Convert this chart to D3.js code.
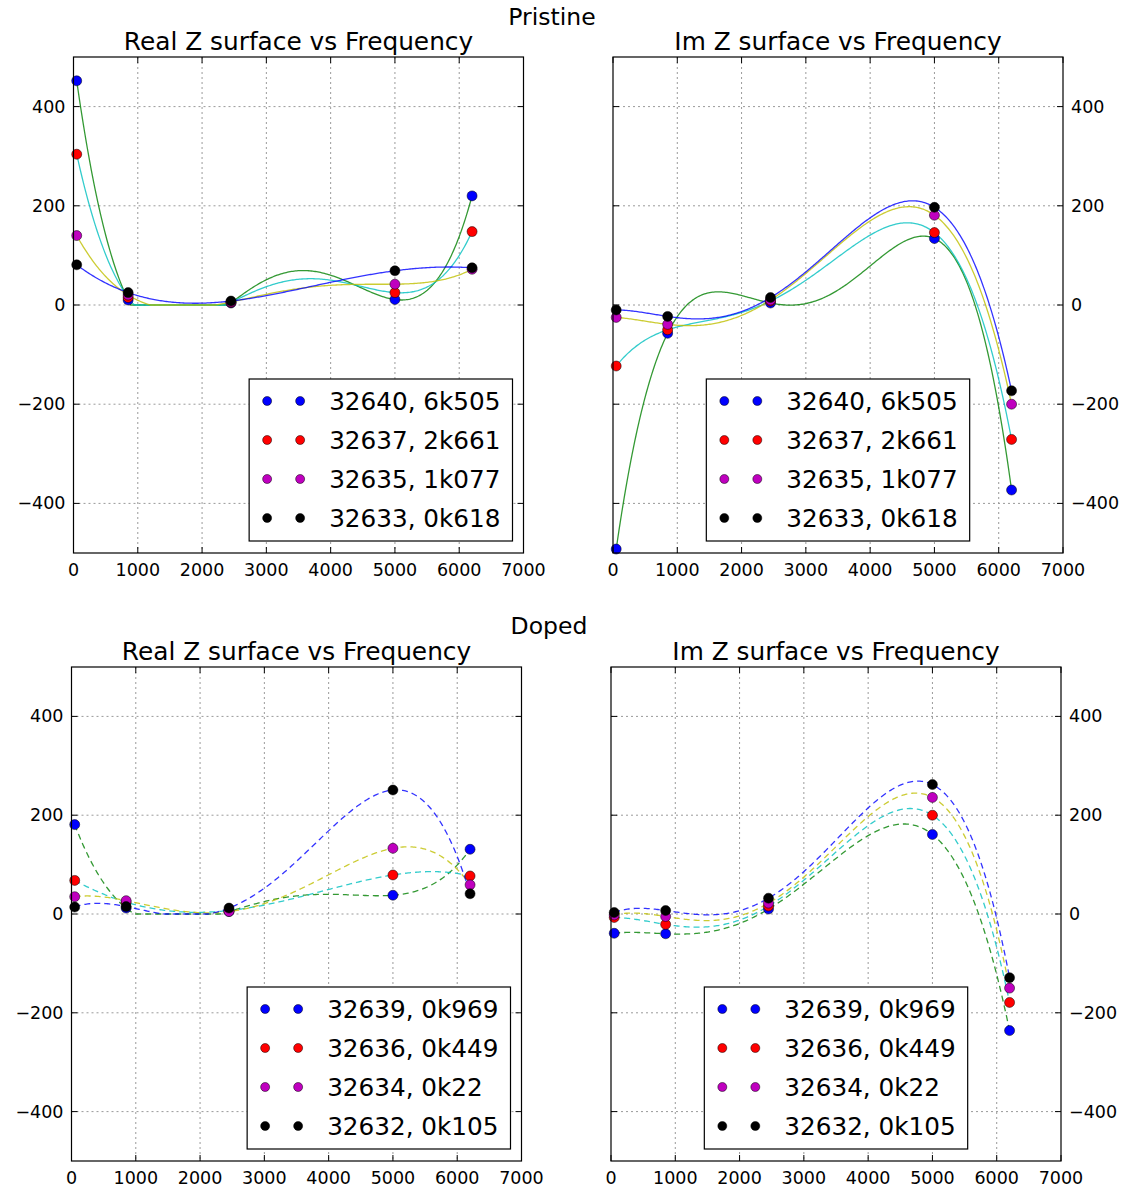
<!DOCTYPE html>
<html>
<head>
<meta charset="utf-8">
<script src="https://cdn.jsdelivr.net/npm/d3@7"></script>
<style>
  body { margin: 0; background: #fff; }
  svg text { font-family: "DejaVu Sans", sans-serif; fill: #000; }
</style>
</head>
<body>
<div id="chart"></div>
<script>
// frequencies of the measurements
const freq = [50, 850, 2450, 5000, 6200];

const pristineLabels = ['32640, 6k505', '32637, 2k661', '32635, 1k077', '32633, 0k618'];
const dopedLabels = ['32639, 0k969', '32636, 0k449', '32634, 0k22', '32632, 0k105'];

// one row per sample, one value per frequency
const pristineReal = [
  [452, 10, 4, 11, 220],
  [304, 15, 5, 25, 148],
  [140, 20, 6, 42, 72],
  [81, 25, 8, 69, 75]
];
const pristineIm = [
  [-492, -57, 4, 134, -373],
  [-123, -50, 8, 146, -271],
  [-25, -39, 10, 181, -200],
  [-10, -23, 15, 197, -173]
];
const dopedReal = [
  [181, 12, 5, 38, 131],
  [68, 24, 7, 79, 77],
  [35, 27, 5, 133, 59],
  [14, 15, 12, 251, 41]
];
const dopedIm = [
  [-39, -40, 10, 161, -236],
  [-7, -21, 16, 200, -179],
  [-2, -5, 22, 236, -150],
  [3, 7, 32, 262, -129]
];

const xTicks = [0, 1000, 2000, 3000, 4000, 5000, 6000, 7000];
const yTicks = [-400, -200, 0, 200, 400];

const dotColors = ['#0000ff', '#ff0000', '#bf00bf', '#000000'];
const curveColors = ['#008000', '#00bfbf', '#bfbf00', '#0000ff'];

// curve that passes one polynomial through all the points of a line,
// optionally held above a floor (real parts never go below zero)
function polyCurve(floorPx) {
  function PolyCurve(context) { this._context = context; }
  PolyCurve.prototype = {
    areaStart() {}, areaEnd() {},
    lineStart() { this._x = []; this._y = []; },
    point(x, y) { this._x.push(+x); this._y.push(+y); },
    lineEnd() {
      const xs = this._x, ys = this._y, n = xs.length;
      const f = t => {
        let s = 0;
        for (let i = 0; i < n; i++) {
          let l = 1;
          for (let j = 0; j < n; j++) if (j !== i) l *= (t - xs[j]) / (xs[i] - xs[j]);
          s += ys[i] * l;
        }
        return floorPx == null ? s : Math.min(s, floorPx);
      };
      const steps = 300;
      for (let k = 0; k <= steps; k++) {
        const t = xs[0] + (xs[n - 1] - xs[0]) * k / steps;
        if (k === 0) this._context.moveTo(t, f(t)); else this._context.lineTo(t, f(t));
      }
    }
  };
  return context => new PolyCurve(context);
}

const W = 1136, H = 1191;
const svg = d3.select('#chart').append('svg')
  .attr('width', W)
  .attr('height', H);

const fmt = d => (d < 0 ? '\u2212' + Math.abs(d) : String(d));
let clipId = 0;

function panel(opts) {
  const { left, top, width, height, title, data, labels, rightAxis, dashed, legendPos, nonNegative } = opts;
  const g = svg.append('g').attr('transform', 'translate(' + left + ',' + top + ')');

  const x = d3.scaleLinear().domain([0, 7000]).range([0, width]);
  const y = d3.scaleLinear().domain([-500, 500]).range([height, 0]);

  // grid
  g.append('g').selectAll('line')
    .data(xTicks.slice(1, -1))
    .enter().append('line')
    .attr('x1', d => x(d)).attr('x2', d => x(d))
    .attr('y1', 0).attr('y2', height)
    .attr('stroke', '#9a9a9a').attr('stroke-width', 1).attr('stroke-dasharray', '2,3');
  g.append('g').selectAll('line')
    .data(yTicks)
    .enter().append('line')
    .attr('x1', 0).attr('x2', width)
    .attr('y1', d => y(d)).attr('y2', d => y(d))
    .attr('stroke', '#9a9a9a').attr('stroke-width', 1).attr('stroke-dasharray', '2,3');

  // curves
  const id = 'clip' + (clipId++);
  g.append('clipPath').attr('id', id).append('rect')
    .attr('width', width).attr('height', height);

  const line = d3.line()
    .x((d, i) => x(freq[i]))
    .y(d => y(d))
    .curve(polyCurve(nonNegative ? y(0) : null));

  const curves = g.append('g').attr('clip-path', 'url(#' + id + ')');
  data.forEach((row, s) => {
    curves.append('path')
      .attr('d', line(row))
      .attr('fill', 'none')
      .attr('stroke', curveColors[s])
      .attr('stroke-opacity', 0.8)
      .attr('stroke-width', 1.3)
      .attr('stroke-dasharray', dashed ? '6,4' : null);
  });

  // points
  data.forEach((row, s) => {
    g.append('g').selectAll('circle')
      .data(row)
      .enter().append('circle')
      .attr('cx', (d, i) => x(freq[i]))
      .attr('cy', d => y(d))
      .attr('r', 5)
      .attr('fill', dotColors[s])
      .attr('stroke', '#000')
      .attr('stroke-width', 0.5);
  });

  // frame
  g.append('rect')
    .attr('width', width).attr('height', height)
    .attr('fill', 'none').attr('stroke', '#000').attr('stroke-width', 1.2);

  // inward ticks on all sides
  const tk = 6;
  xTicks.forEach(t => {
    g.append('line').attr('x1', x(t)).attr('x2', x(t)).attr('y1', height).attr('y2', height - tk).attr('stroke', '#000');
    g.append('line').attr('x1', x(t)).attr('x2', x(t)).attr('y1', 0).attr('y2', tk).attr('stroke', '#000');
  });
  yTicks.forEach(t => {
    g.append('line').attr('x1', 0).attr('x2', tk).attr('y1', y(t)).attr('y2', y(t)).attr('stroke', '#000');
    g.append('line').attr('x1', width).attr('x2', width - tk).attr('y1', y(t)).attr('y2', y(t)).attr('stroke', '#000');
  });

  g.append('g').selectAll('text')
    .data(xTicks)
    .enter().append('text')
    .attr('x', d => x(d))
    .attr('y', height + 23)
    .attr('text-anchor', 'middle')
    .attr('font-size', 17.5)
    .text(d => d);

  g.append('g').selectAll('text')
    .data(yTicks)
    .enter().append('text')
    .attr('x', rightAxis ? width + 8 : -8)
    .attr('y', d => y(d) + 6)
    .attr('text-anchor', rightAxis ? 'start' : 'end')
    .attr('font-size', 17.5)
    .text(fmt);

  g.append('text')
    .attr('x', width / 2)
    .attr('y', -7)
    .attr('text-anchor', 'middle')
    .attr('font-size', 24.8)
    .text(title);

  // legend
  const rowH = 39;
  const leg = g.append('g');
  const box = leg.append('rect')
    .attr('fill', '#fff').attr('stroke', '#000').attr('stroke-width', 1.2);
  let textW = 0;
  labels.forEach((lab, s) => {
    const cy = 22 + s * rowH;
    [18, 51].forEach(cx => {
      leg.append('circle')
        .attr('cx', cx).attr('cy', cy).attr('r', 4.5)
        .attr('fill', dotColors[s]).attr('stroke', '#000').attr('stroke-width', 0.5);
    });
    const t = leg.append('text')
      .attr('x', 80).attr('y', cy + 9)
      .attr('font-size', 24.7)
      .text(lab);
    textW = Math.max(textW, t.node().getComputedTextLength());
  });
  const bw = 80 + textW + 12;
  const bh = 162;
  box.attr('width', bw).attr('height', bh);
  const lx = legendPos === 'center' ? (width - bw) / 2 : width - 11 - bw;
  leg.attr('transform', 'translate(' + lx + ',' + (height - 12 - bh) + ')');
}

svg.append('text').attr('x', 552).attr('y', 25).attr('text-anchor', 'middle')
  .attr('font-size', 23.5).text('Pristine');
svg.append('text').attr('x', 549).attr('y', 634).attr('text-anchor', 'middle')
  .attr('font-size', 23.5).text('Doped');

panel({ left: 73.5, top: 57, width: 450, height: 496, title: 'Real Z surface vs Frequency',
  data: pristineReal, labels: pristineLabels, rightAxis: false, dashed: false, legendPos: 'right', nonNegative: true });
panel({ left: 613, top: 57, width: 450, height: 496, title: 'Im Z surface vs Frequency',
  data: pristineIm, labels: pristineLabels, rightAxis: true, dashed: false, legendPos: 'center', nonNegative: false });
panel({ left: 71.5, top: 667, width: 450, height: 494, title: 'Real Z surface vs Frequency',
  data: dopedReal, labels: dopedLabels, rightAxis: false, dashed: true, legendPos: 'right', nonNegative: true });
panel({ left: 611, top: 667, width: 450, height: 494, title: 'Im Z surface vs Frequency',
  data: dopedIm, labels: dopedLabels, rightAxis: true, dashed: true, legendPos: 'center', nonNegative: false });
</script>
</body>
</html>
